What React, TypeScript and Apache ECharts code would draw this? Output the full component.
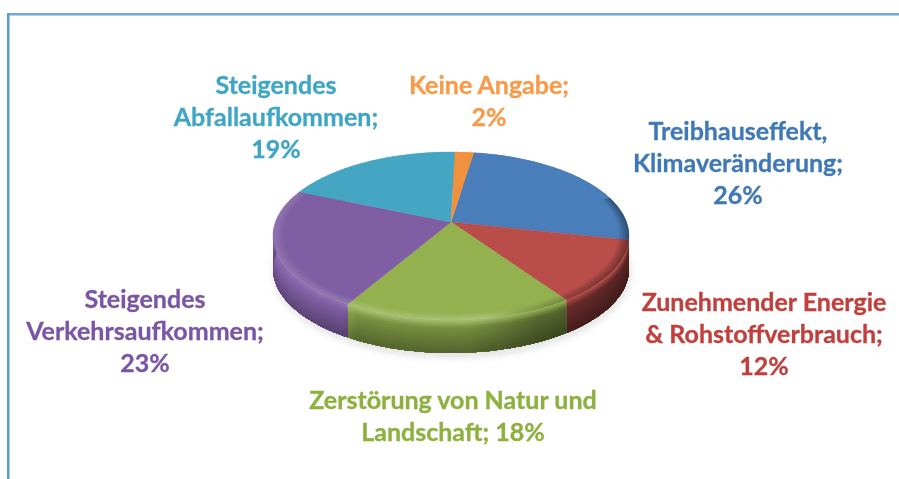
import React, { useEffect, useRef } from "react";
import * as echarts from "echarts";

const categories = [
  "Treibhauseffekt, Klimaveränderung",
  "Zunehmender Energie & Rohstoffverbrauch",
  "Zerstörung von Natur und Landschaft",
  "Steigendes Verkehrsaufkommen",
  "Steigendes Abfallaufkommen",
  "Keine Angabe",
];
const values = [26, 12, 18, 23, 19, 2];
const labelTexts = [
  "Treibhauseffekt,\nKlimaveränderung;\n26%",
  "Zunehmender Energie\n& Rohstoffverbrauch;\n12%",
  "Zerstörung von Natur und\nLandschaft; 18%",
  "Steigendes\nVerkehrsaufkommen;\n23%",
  "Steigendes\nAbfallaufkommen;\n19%",
  "Keine Angabe;\n2%",
];
const sliceColors = ["#4a7ebb", "#b94d4a", "#93b14f", "#7f5ea3", "#45a6c3", "#f0913f"];
const labelColors = ["#3f78b6", "#c03f3c", "#8db03e", "#7a55a5", "#3fa5c4", "#f79a4a"];
const labelCenters = [
  [738, 162],
  [764, 333],
  [453, 415],
  [145, 330],
  [276, 116],
  [489, 100],
];

const START_DEG = 8.7;
const APEX_X = 451;
const APEX_Y = 222;
const PERSP = 0.1667;
const RX = 175.5;
const RY = 81.67;
const DEPTH = 33;
const TOTAL = values.reduce((a, b) => a + b, 0);

const project = (deg: number, s = 1): number[] => {
  const r = (deg * Math.PI) / 180;
  const u = s * Math.sin(r);
  const v = -s * Math.cos(r);
  const w = 1 - PERSP * v;
  return [APEX_X + (RX * u) / w, APEX_Y + (RY * v) / w];
};

const sliceRange = (idx: number): number[] => {
  let before = 0;
  for (let i = 0; i < idx; i++) before += values[i];
  return [
    START_DEG + (before / TOTAL) * 360,
    START_DEG + ((before + values[idx]) / TOTAL) * 360,
  ];
};

const arcPoints = (a: number, b: number, s = 1, dy = 0): number[][] => {
  const pts: number[][] = [];
  const n = Math.max(2, Math.ceil((b - a) / 1.5));
  for (let i = 0; i <= n; i++) {
    const p = project(a + ((b - a) * i) / n, s);
    pts.push([p[0], p[1] + dy]);
  }
  return pts;
};

const hexRgb = (h: string): number[] => [
  parseInt(h.slice(1, 3), 16),
  parseInt(h.slice(3, 5), 16),
  parseInt(h.slice(5, 7), 16),
];
const scaleColor = (h: string, f: number, lift = 0): string => {
  const c = hexRgb(h).map((x) => Math.max(0, Math.min(255, Math.round(x * f + (255 - x) * lift))));
  return `rgb(${c[0]},${c[1]},${c[2]})`;
};

const LEFT = APEX_X - 180;
const RIGHT = APEX_X + 180;
// offset along the pie's width, brightness, bevel highlight strength
const lightStops = [
  [0, 1.32, 0.1],
  [0.2, 1.22, 0.14],
  [0.24, 1.02, 0.18],
  [0.55, 1.0, 0.22],
  [0.74, 0.74, 0],
  [1, 0.6, 0],
];

const BEVEL_END = 0.24;

const bandFill = (color: string, t: number) => {
  const inBevel = t < BEVEL_END;
  const k = inBevel ? t / BEVEL_END : 1;
  const wall = 0.8 - (inBevel ? 0 : ((t - BEVEL_END) / (1 - BEVEL_END)) * 0.24);
  return {
    type: "linear",
    x: LEFT,
    y: 0,
    x2: RIGHT,
    y2: 0,
    global: true,
    colorStops: lightStops.map(([o, l, lift]) => {
      const f = (1 - k) * 1 + k * wall * l;
      return { offset: o, color: scaleColor(color, f, lift * (1 - k)) };
    }),
  };
};

const wallItem = (params: any) => {
  const idx = params.dataIndex;
  const [a, b] = sliceRange(idx);
  const children: any[] = [];
  const BANDS = 16;
  for (let i = 0; i < BANDS; i++) {
    const d0 = (DEPTH * i) / BANDS;
    children.push({
      type: "polygon",
      shape: { points: [...arcPoints(a, b, 1, d0), ...arcPoints(a, b, 1, DEPTH).reverse()] },
      style: { fill: bandFill(sliceColors[idx], (i + 0.5) / BANDS) },
    });
  }
  return { type: "group", children };
};

const RIM_FROM = 72;
const RIM_TO = 292;

const topItem = (params: any) => {
  const idx = params.dataIndex;
  const [a, b] = sliceRange(idx);
  const children: any[] = [
    {
      type: "polygon",
      shape: { points: [[APEX_X, APEX_Y], ...arcPoints(a, b)] },
      style: { fill: sliceColors[idx], stroke: sliceColors[idx], lineWidth: 0.4 },
    },
  ];
  const ra = Math.max(a, RIM_FROM);
  const rb = Math.min(b, RIM_TO);
  if (rb > ra) {
    const RINGS = 7;
    for (let i = 0; i < RINGS; i++) {
      const s0 = 0.945 + (0.055 * i) / RINGS;
      const alpha = 0.03;
      children.push({
        type: "polygon",
        shape: { points: [...arcPoints(ra, rb, 1), ...arcPoints(ra, rb, s0).reverse()] },
        style: {
          fill: {
            type: "linear",
            x: LEFT,
            y: 0,
            x2: RIGHT,
            y2: 0,
            global: true,
            colorStops: [
              { offset: 0, color: `rgba(255,255,255,${alpha * 0.7})` },
              { offset: 0.6, color: `rgba(255,255,255,${alpha * 1.2})` },
              { offset: 0.76, color: `rgba(0,0,0,${alpha})` },
              { offset: 1, color: `rgba(0,0,0,${alpha * 2.2})` },
            ],
          },
        },
      });
    }
  }
  return { type: "group", children };
};

const labelItem = (params: any) => {
  const idx = params.dataIndex;
  return {
    type: "text",
    style: {
      text: labelTexts[idx],
      x: labelCenters[idx][0],
      y: labelCenters[idx][1],
      align: "center",
      verticalAlign: "middle",
      fill: labelColors[idx],
      stroke: labelColors[idx],
      lineWidth: 0.3,
      font: "bold 25px Lato",
      lineHeight: 32,
    },
  };
};

const seriesData = categories.map((name, i) => ({ name, value: values[i] }));

export default function App() {
  const ref = useRef<HTMLDivElement>(null);
  useEffect(() => {
    document.body.style.margin = "0";
    const chart = echarts.init(ref.current!, undefined, { renderer: "svg" });
    chart.setOption({
      animation: false,
      backgroundColor: "#ffffff",
      graphic: [
        { type: "rect", shape: { x: 7, y: 13, width: 892, height: 2.5 }, style: { fill: "#6fa8dc" } },
        { type: "rect", shape: { x: 7, y: 13, width: 2.5, height: 466 }, style: { fill: "#5b9bd5" } },
      ],
      series: [
        {
          type: "custom",
          coordinateSystem: "none",
          data: [{ name: "Schatten", value: 1 }],
          silent: true,
          z: 1,
          renderItem: () => ({
            type: "ellipse",
            shape: { cx: APEX_X + 1, cy: APEX_Y + 50, rx: 177, ry: 84 },
            style: { fill: "#e8e8e8", shadowBlur: 8, shadowColor: "rgba(0,0,0,0.18)" },
          }),
        },
        { type: "custom", coordinateSystem: "none", data: seriesData, silent: true, z: 2, renderItem: wallItem },
        { type: "custom", coordinateSystem: "none", data: seriesData, silent: true, z: 3, renderItem: topItem },
        { type: "custom", coordinateSystem: "none", data: seriesData, silent: true, z: 4, renderItem: labelItem },
      ],
    });
    return () => chart.dispose();
  }, []);
  return <div ref={ref} style={{ position: "fixed", left: 0, top: 0, width: 899, height: 479, filter: "blur(0.5px)" }} />;
}
